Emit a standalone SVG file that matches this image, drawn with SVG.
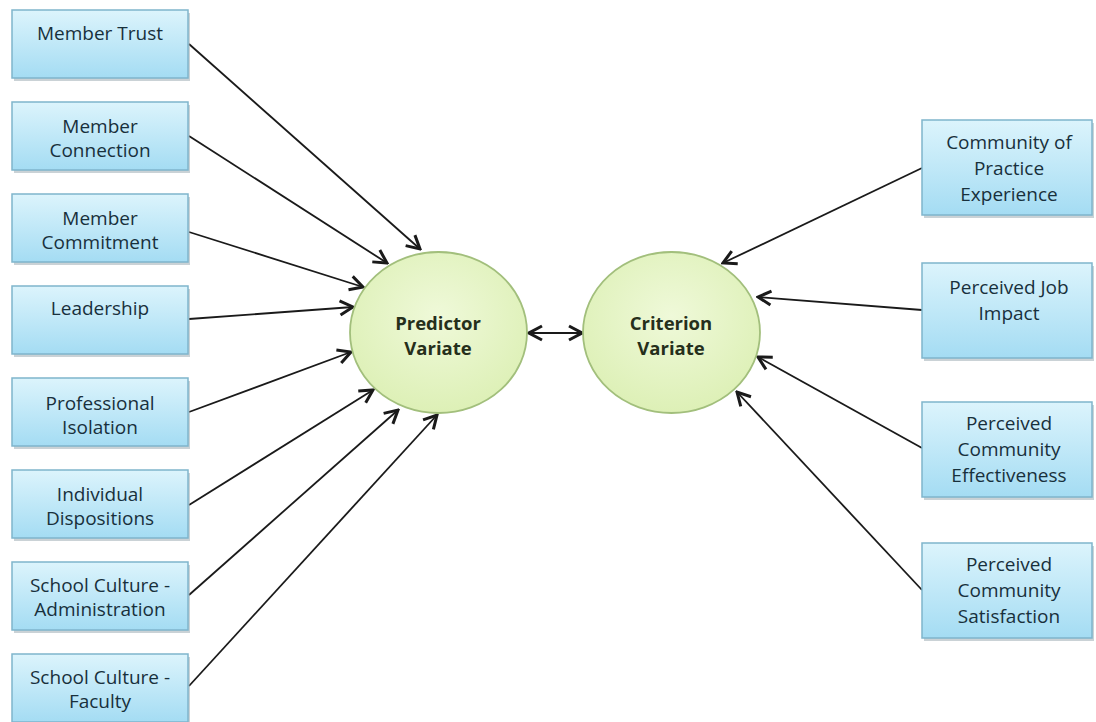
<svg xmlns="http://www.w3.org/2000/svg" width="1096" height="722" viewBox="0 0 1096 722">
<defs>
<linearGradient id="boxg" x1="0" y1="0" x2="0" y2="1">
<stop offset="0" stop-color="#dcf4fc"/>
<stop offset="1" stop-color="#a4dcf3"/>
</linearGradient>
<radialGradient id="circg" cx="0.5" cy="0.4" r="0.6">
<stop offset="0" stop-color="#eff9d9"/>
<stop offset="1" stop-color="#ddf0b6"/>
</radialGradient>
<marker id="arr" viewBox="0 0 18 18" refX="16" refY="9" markerWidth="18" markerHeight="18" markerUnits="userSpaceOnUse" orient="auto-start-reverse">
<path d="M3,2 L16,9 L3,16" fill="none" stroke="#1a1a1a" stroke-width="3" stroke-linejoin="miter"/>
</marker>
</defs>
<style>
.box{fill:url(#boxg);stroke:#7fb5cc;stroke-width:1.5}
.sh{fill:#95a5ad;opacity:0.5}
.t{font-family:"Open Sans","Liberation Sans",sans-serif;font-size:19px;fill:#18303c;text-anchor:middle}
.c{fill:url(#circg);stroke:#a2bf7c;stroke-width:1.8}
.ct{font-family:"Open Sans","Liberation Sans",sans-serif;font-size:18.5px;font-weight:bold;fill:#252f1b;text-anchor:middle}
.ln{stroke:#1a1a1a;stroke-width:1.8;fill:none;marker-end:url(#arr)}
</style>
<rect width="1096" height="722" fill="#ffffff"/>

<g id="connectors">
<line class="ln" x1="189" y1="44" x2="420" y2="249"/>
<line class="ln" x1="189" y1="136" x2="387" y2="263"/>
<line class="ln" x1="189" y1="232" x2="363" y2="287"/>
<line class="ln" x1="189" y1="319" x2="353" y2="307"/>
<line class="ln" x1="189" y1="412" x2="351" y2="352"/>
<line class="ln" x1="189" y1="505" x2="373" y2="390"/>
<line class="ln" x1="189" y1="595" x2="398" y2="410"/>
<line class="ln" x1="189" y1="686" x2="437" y2="415"/>
<line class="ln" x1="922" y1="168" x2="723" y2="263"/>
<line class="ln" x1="922" y1="310" x2="758" y2="297"/>
<line class="ln" x1="922" y1="448" x2="758" y2="357"/>
<line class="ln" x1="922" y1="590" x2="737" y2="392"/>
<line class="ln" x1="529" y1="333" x2="582" y2="333" marker-start="url(#arr)"/>
</g>

<g id="member-trust"><rect class="sh" x="14" y="13" width="176" height="68"/><rect class="box" x="12" y="10" width="176" height="68"/><text class="t" x="100" y="40">Member Trust</text></g>
<g id="member-connection"><rect class="sh" x="14" y="105" width="176" height="68"/><rect class="box" x="12" y="102" width="176" height="68"/><text class="t" x="100" y="133">Member</text><text class="t" x="100" y="157">Connection</text></g>
<g id="member-commitment"><rect class="sh" x="14" y="197" width="176" height="68"/><rect class="box" x="12" y="194" width="176" height="68"/><text class="t" x="100" y="225">Member</text><text class="t" x="100" y="249">Commitment</text></g>
<g id="leadership"><rect class="sh" x="14" y="289" width="176" height="68"/><rect class="box" x="12" y="286" width="176" height="68"/><text class="t" x="100" y="315">Leadership</text></g>
<g id="professional-isolation"><rect class="sh" x="14" y="381" width="176" height="68"/><rect class="box" x="12" y="378" width="176" height="68"/><text class="t" x="100" y="410">Professional</text><text class="t" x="100" y="434">Isolation</text></g>
<g id="individual-dispositions"><rect class="sh" x="14" y="473" width="176" height="68"/><rect class="box" x="12" y="470" width="176" height="68"/><text class="t" x="100" y="501">Individual</text><text class="t" x="100" y="525">Dispositions</text></g>
<g id="school-culture-administration"><rect class="sh" x="14" y="565" width="176" height="68"/><rect class="box" x="12" y="562" width="176" height="68"/><text class="t" x="100" y="592">School Culture -</text><text class="t" x="100" y="616">Administration</text></g>
<g id="school-culture-faculty"><rect class="sh" x="14" y="657" width="176" height="68"/><rect class="box" x="12" y="654" width="176" height="68"/><text class="t" x="100" y="684">School Culture -</text><text class="t" x="100" y="708">Faculty</text></g>

<g id="predictor-variate"><ellipse class="c" cx="438.5" cy="332.5" rx="88.5" ry="80.5"/><text class="ct" x="438" y="330">Predictor</text><text class="ct" x="438" y="355">Variate</text></g>
<g id="criterion-variate"><ellipse class="c" cx="671.5" cy="332.5" rx="88.5" ry="80.5"/><text class="ct" x="671" y="330">Criterion</text><text class="ct" x="671" y="355">Variate</text></g>

<g id="community-of-practice-experience"><rect class="sh" x="924" y="123" width="170" height="95"/><rect class="box" x="922" y="120" width="170" height="95"/><text class="t" x="1009" y="149">Community of</text><text class="t" x="1009" y="175">Practice</text><text class="t" x="1009" y="201">Experience</text></g>
<g id="perceived-job-impact"><rect class="sh" x="924" y="266" width="170" height="95"/><rect class="box" x="922" y="263" width="170" height="95"/><text class="t" x="1009" y="294">Perceived Job</text><text class="t" x="1009" y="320">Impact</text></g>
<g id="perceived-community-effectiveness"><rect class="sh" x="924" y="405" width="170" height="95"/><rect class="box" x="922" y="402" width="170" height="95"/><text class="t" x="1009" y="430">Perceived</text><text class="t" x="1009" y="456">Community</text><text class="t" x="1009" y="482">Effectiveness</text></g>
<g id="perceived-community-satisfaction"><rect class="sh" x="924" y="546" width="170" height="95"/><rect class="box" x="922" y="543" width="170" height="95"/><text class="t" x="1009" y="571">Perceived</text><text class="t" x="1009" y="597">Community</text><text class="t" x="1009" y="623">Satisfaction</text></g>
</svg>
